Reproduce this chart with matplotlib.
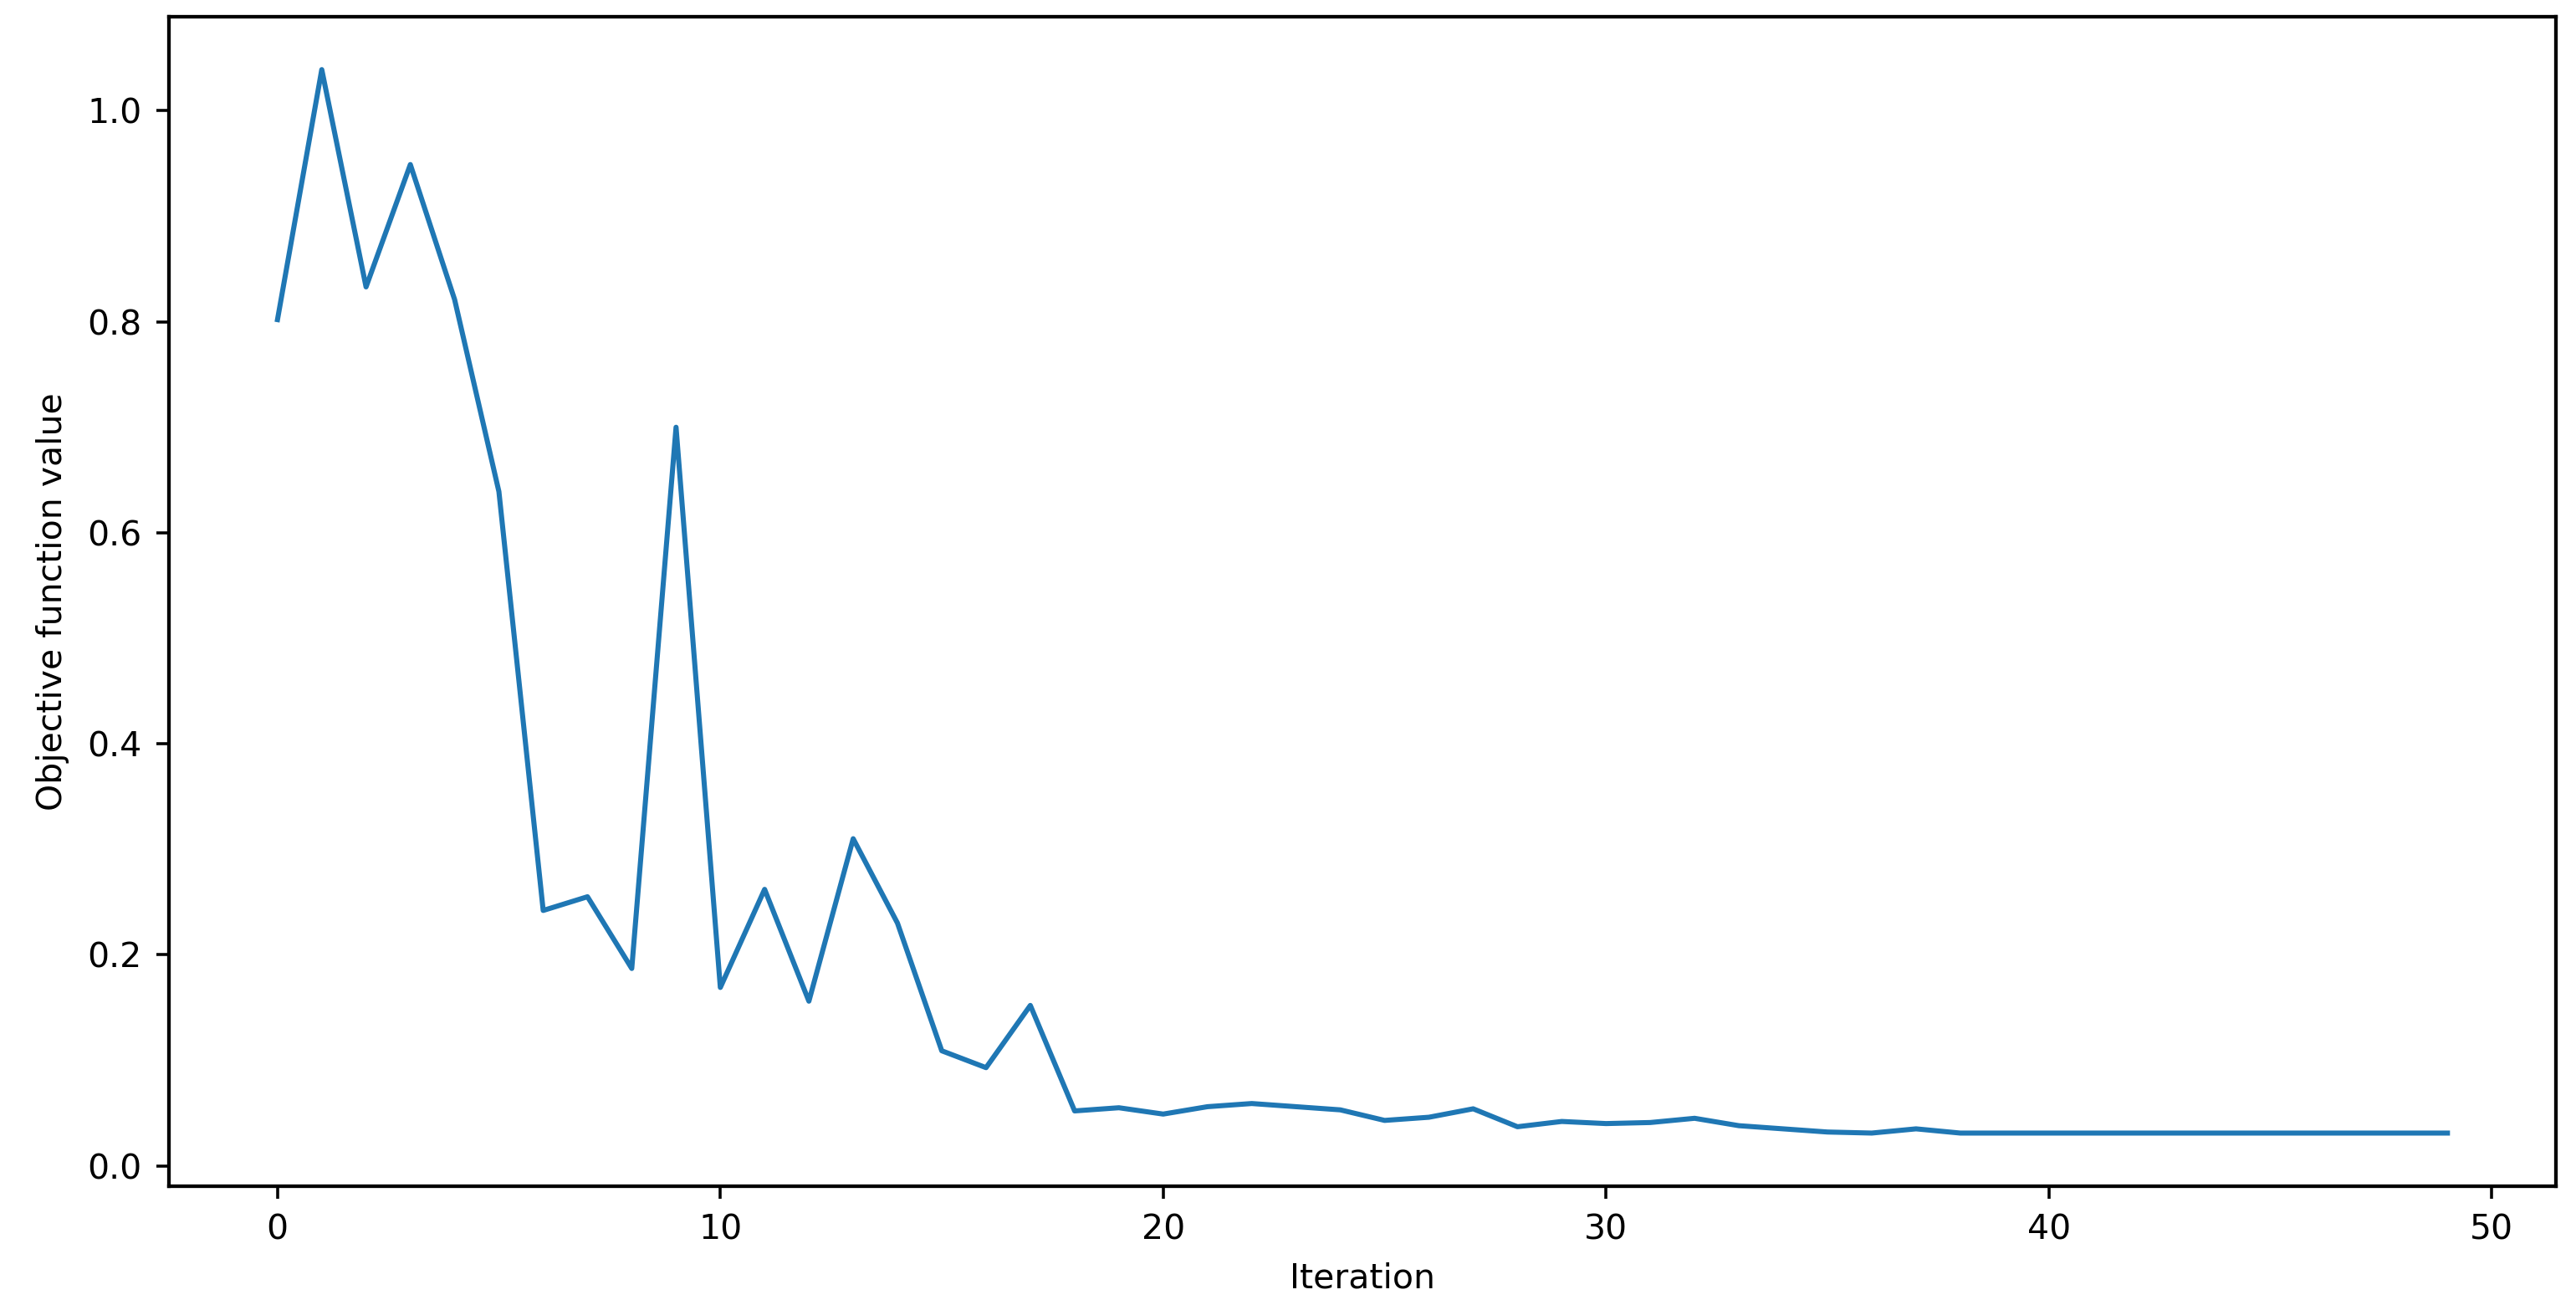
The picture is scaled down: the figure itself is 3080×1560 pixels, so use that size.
import matplotlib
matplotlib.use("Agg")
import matplotlib.pyplot as plt

# objective value per iteration
iterations = list(range(50))
objective = [
    0.802, 1.039, 0.833, 0.949, 0.821, 0.639, 0.242, 0.255, 0.187, 0.700,
    0.169, 0.262, 0.156, 0.310, 0.230, 0.109, 0.093, 0.152, 0.052, 0.055,
    0.049, 0.056, 0.059, 0.056, 0.053, 0.043, 0.046, 0.054, 0.037, 0.042,
    0.040, 0.041, 0.045, 0.038, 0.035, 0.032, 0.031, 0.035, 0.031, 0.031,
    0.031, 0.031, 0.031, 0.031, 0.031, 0.031, 0.031, 0.031, 0.031, 0.031,
]

plt.rcParams['font.size'] = 11.5
plt.rcParams['xtick.major.size'] = 4.2
plt.rcParams['ytick.major.size'] = 4.2
plt.rcParams['xtick.major.pad'] = 5
plt.rcParams['ytick.major.pad'] = 5
plt.rcParams['xtick.major.width'] = 1.0
plt.rcParams['ytick.major.width'] = 1.0
plt.rcParams['axes.linewidth'] = 1.2

fig, ax = plt.subplots(figsize=(12, 6.078), dpi=256.67)
fig.subplots_adjust(left=0.0656, right=0.9922, top=0.9874, bottom=0.091)

ax.plot(iterations, objective, color='#1f77b4', linewidth=1.7)
ax.set_xlabel('Iteration', labelpad=5)
ax.set_ylabel('Objective function value', labelpad=6)

fig.savefig('out.png')
